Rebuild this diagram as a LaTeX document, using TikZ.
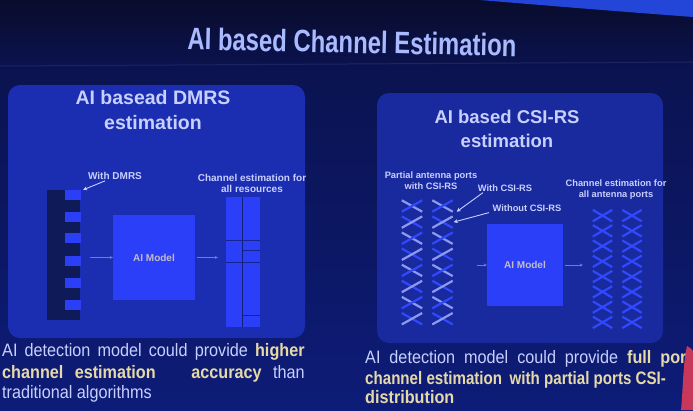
\documentclass[tikz,border=0pt]{standalone}
\usepackage{fontspec}
\setmainfont{Liberation Sans}
\usetikzlibrary{arrows.meta,calc}
\definecolor{bgtop}{HTML}{090C2C}
\definecolor{bgmid}{HTML}{0B1350}
\definecolor{bgbot}{HTML}{0D1C78}
\definecolor{glow}{HTML}{2446D8}
\definecolor{panelL}{HTML}{1B2DB0}
\definecolor{panelR}{HTML}{19299E}
\definecolor{block}{HTML}{2B3EF8}
\definecolor{dcolc}{HTML}{0F1A58}
\definecolor{txt}{HTML}{C8D0FF}
\definecolor{ttl}{HTML}{A9BAFF}
\definecolor{cream}{HTML}{E6D9A8}
\definecolor{aimtxt}{HTML}{C4BCCB}
\definecolor{flowc}{HTML}{6C7AE4}
\definecolor{xbright}{HTML}{3049FF}
\definecolor{xpale}{HTML}{8C9AF2}
\definecolor{pinkp}{HTML}{C8385A}
\newcommand{\narrow}[1]{\scalebox{0.9}[1]{#1}}
\tikzset{
  panel/.style={rounded corners=12pt, inner sep=0pt},
  ptitle/.style={text=txt, font=\fontsize{18.5}{24}\selectfont\bfseries, align=center},
  lbl/.style={text=txt, font=\fontsize{9.3}{10.8}\selectfont\bfseries, align=center, inner sep=1pt},
  lblL/.style={lbl, font=\fontsize{10}{11}\selectfont\bfseries},
  blk/.style={fill=block, inner sep=0pt},
  aim/.style={blk, text=aimtxt, font=\fontsize{10}{11}\selectfont\bfseries},
  flow/.style={draw=flowc, line width=0.6pt, -{Stealth[length=3pt,width=3pt]}},
  pointer/.style={draw=txt, line width=0.9pt, -{Stealth[length=4pt,width=4pt]}},
  xcell/.style={minimum width=20pt, minimum height=11pt, inner sep=0pt},
  xs/.style={line width=2.2pt},
  btxt/.style={text=txt, font=\fontsize{18}{21}\selectfont, inner sep=0pt, anchor=base west},
}
\begin{document}
\begin{tikzpicture}[x=1pt,y=-1pt]
\useasboundingbox (0,0) rectangle (693,410);
% background
\shade[top color=bgtop, bottom color=bgmid] (0,0) rectangle (693,70);
\shade[top color=bgmid, bottom color=bgbot] (0,70) rectangle (693,410);
\fill[glow] (480,0) -- (693,0) -- (693,17) .. controls (600,10) and (540,5) .. (480,0) -- cycle;
\draw[bgbot!70!white, opacity=0.25, line width=1pt] (0,66) -- (693,62);
% title
\node[text=ttl, font=\fontsize{31}{31}\selectfont\bfseries, rotate=-1.2] (title) at (352,42)
  {\scalebox{0.77}[1]{AI based Channel Estimation}};

% ---------- left panel ----------
\node[panel, fill=panelL, minimum width=297pt, minimum height=253pt] (lpanel) at (156.5,211.5) {};
\node[ptitle, font=\fontsize{19.5}{24.5}\selectfont\bfseries] (ltitle) at (153,110) {AI basead DMRS\\estimation};
\node[fill=dcolc, minimum width=33pt, minimum height=130pt, inner sep=0pt] (dcol) at (63.5,255) {};
\foreach \i/\yy in {1/195,2/217,3/238,4/261,5/283,6/305}{
  \node[blk, minimum width=16pt, minimum height=10pt] (d\i) at (73,\yy) {};
}
\node[aim, minimum width=82pt, minimum height=85pt] (ai1) at (154,257.5) {AI Model};
\node[blk, minimum width=16pt, minimum height=130pt] (rc1) at (234,262) {};
\node[blk, minimum width=17pt, minimum height=130pt] (rc2) at (251.5,262) {};
\draw[panelL!70!black, line width=0.4pt] (rc1.north east) -- (rc1.south east);
\draw[panelL!80!black, line width=0.3pt] (rc1.west |- 0,240) -- (rc2.east |- 0,240);
\draw[panelL!80!black, line width=0.3pt] (rc2.west |- 0,250) -- (rc2.east |- 0,250);
\draw[panelL!80!black, line width=0.3pt] (rc1.west |- 0,262) -- (rc2.east |- 0,262);
\draw[panelL!80!black, line width=0.3pt] (rc2.west |- 0,315) -- (rc2.east |- 0,315);
\node[lblL] (wdmrs) at (115,176) {With DMRS};
\node[lblL] (ceall) at (252,183.5) {Channel estimation for\\all resources};
\draw[pointer] ([xshift=-10pt]wdmrs.south) -- ([xshift=2pt]d1.north east);
\draw[flow, shorten <=10pt] (dcol.east |- ai1.west) -- (ai1.west);
\draw[flow, shorten <=2pt, shorten >=8pt] (ai1.east) -- (rc1.west |- ai1.east);

% ---------- right panel ----------
\node[panel, fill=panelR, minimum width=286pt, minimum height=250pt] (rpanel) at (520,218) {};
\node[ptitle] (rtitle) at (507,128.5) {AI based CSI-RS\\estimation};
\node[lbl] (partial) at (431,181) {Partial antenna ports\\with CSI-RS};
\node[lbl] (withcsi) at (505,188) {With CSI-RS};
\node[lbl] (wocsi) at (527,208) {Without CSI-RS};
\node[lbl] (ceant) at (616,189.5) {Channel estimation for\\all antenna ports};
\foreach \i in {1,...,8}{
  \node[xcell] (xa\i) at (412,{206+16.1*(\i-1)}) {};
  \node[xcell] (xb\i) at (442.5,{206+16.1*(\i-1)}) {};
  \ifodd\i
    \draw[xs, xpale] (xa\i.north west) -- (xa\i.south east);
    \draw[xs, xbright] (xa\i.south west) -- (xa\i.north east);
    \draw[xs, xpale] (xb\i.north west) -- (xb\i.south east);
    \draw[xs, xbright] (xb\i.south west) -- (xb\i.north east);
  \else
    \draw[xs, xbright] (xa\i.north west) -- (xa\i.south east);
    \draw[xs, xpale] (xa\i.south west) -- (xa\i.north east);
    \draw[xs, xbright] (xb\i.north west) -- (xb\i.south east);
    \draw[xs, xpale] (xb\i.south west) -- (xb\i.north east);
  \fi
  \node[xcell, minimum width=19pt] (ya\i) at (602.5,{215.6+15.25*(\i-1)}) {};
  \node[xcell, minimum width=19pt] (yb\i) at (632,{215.6+15.25*(\i-1)}) {};
  \draw[xs, xbright] (ya\i.north west) -- (ya\i.south east);
  \draw[xs, xbright] (ya\i.south west) -- (ya\i.north east);
  \draw[xs, xbright] (yb\i.north west) -- (yb\i.south east);
  \draw[xs, xbright] (yb\i.south west) -- (yb\i.north east);
}
\node[aim, minimum width=76pt, minimum height=82pt] (ai2) at (525,265) {AI Model};
\draw[pointer] ([xshift=-22pt]withcsi.south) -- ([xshift=4pt]xb1.south east);
\draw[pointer] ([xshift=-38pt]wocsi.south) -- ([xshift=1pt]xb2.east);
\draw[flow, shorten <=24pt] (xb4.east |- ai2.west) -- (ai2.west);
\draw[flow, shorten <=2pt, shorten >=10pt] (ai2.east) -- (ya4.west |- ai2.east);

% ---------- bottom texts ----------
\node[btxt] (l1) at (2,356) {\narrow{\makebox[336pt][s]{AI detection model could provide \textcolor{cream}{\bfseries higher}}}};
\node[btxt] (l2) at (2,378) {\narrow{\makebox[336pt][s]{\textcolor{cream}{\bfseries channel estimation}\hspace{2.2em}\textcolor{cream}{\bfseries accuracy} than}}};
\node[btxt] (l3) at (2,398) {\narrow{traditional algorithms}};
\node[btxt] (r1) at (365,363) {\narrow{\makebox[357pt][s]{AI detection model could provide \textcolor{cream}{\bfseries full por}}}};
\node[btxt, text=cream] (r2) at (365,384) {\scalebox{0.84}[1]{\bfseries channel estimation\hspace{0.5em}with partial ports CSI-}};
\node[btxt, text=cream] (r3) at (365,403) {\narrow{\bfseries distribution}};
% person at the right edge
\fill[pinkp] (687,346) .. controls (690,347) and (693,350) .. (693,352) -- (693,410) -- (681,410) .. controls (683,390) and (683,362) .. (687,346) -- cycle;
\end{tikzpicture}
\end{document}
